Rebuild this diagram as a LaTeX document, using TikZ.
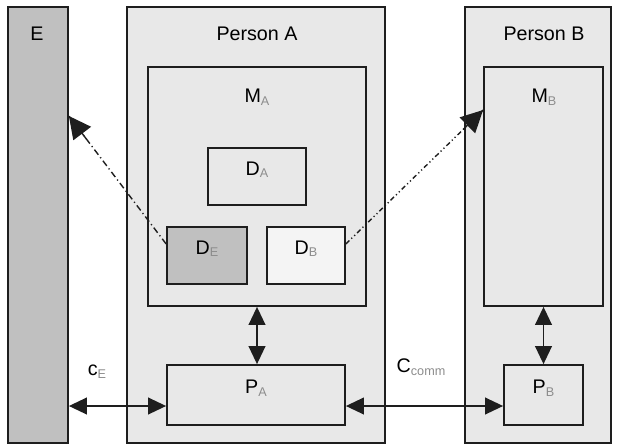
\documentclass[tikz,border=0pt]{standalone}
\usepackage{fontspec}
\setmainfont{Liberation Sans}
\usetikzlibrary{fit,arrows.meta}
\definecolor{edgegrey}{HTML}{1E1E1E}
\definecolor{bargrey}{HTML}{C0C0C0}
\definecolor{panelgrey}{HTML}{E8E8E8}
\definecolor{lightpanel}{HTML}{F4F4F4}
\definecolor{subgrey}{HTML}{8C8C8C}
\newcommand{\lsub}[1]{\raisebox{-2pt}{\fontsize{9pt}{10pt}\selectfont\color{subgrey}#1}}
\begin{document}
\begin{tikzpicture}[x=0.25mm,y=-0.25mm,line join=miter,font=\fontsize{14pt}{16pt}\selectfont,
  box/.style={draw=edgegrey,line width=0.45mm,fill=panelgrey,inner sep=0pt},
  flow/.style={draw=edgegrey,line width=0.35mm,
    {Triangle[length=4.5mm,width=4.2mm]}-{Triangle[length=4.5mm,width=4.2mm]}},
  leak/.style={draw=edgegrey,line width=0.35mm},
  leaktip/.style={draw=edgegrey,fill=edgegrey,line width=0.35mm,solid,-{Triangle[length=5.5mm,width=5.5mm]}}]
  \useasboundingbox (0,0) rectangle (619,445);
  % environment and the two persons
  \node[box,fill=bargrey,fit={(8,7) (68,443)}] (E) {};
  \node[box,fit={(127,7) (385,443)}] (A) {};
  \node[box,fit={(465,7) (611,443)}] (B) {};
  \node (Elbl) at (37,34) {E};
  \node (Albl) at (257,34) {Person A};
  \node (Blbl) at (544,34) {Person B};
  % memories
  \node[box,fit={(148,67) (366,306)}] (MA) {};
  \node[box,fit={(484,67) (603,306)}] (MB) {};
  \node (MAlbl) at (257,97) {M\lsub{A}};
  \node (MBlbl) at (544,97) {M\lsub{B}};
  \node[box,fit={(208,148) (306,205)}] (DA) {D\lsub{A}};
  \node[box,fill=bargrey,fit={(167,227) (247,284)}] (DE) {D\lsub{E}};
  \node[box,fill=lightpanel,fit={(267,227) (345,284)}] (DB) {D\lsub{B}};
  % processors
  \node[box,fit={(167,365) (345,425)}] (PA) {P\lsub{A}};
  \node[box,fit={(504,365) (583,425)}] (PB) {P\lsub{B}};
  \coordinate (chan) at (0,406);
  \coordinate (Ehit) at (E.east |- 0,116);
  \coordinate (MBhit) at (MB.west |- 0,110);
  % links
  \draw[flow] (MA.south) -- (MA.south |- PA.north);
  \draw[flow] (MB.south) -- (MB.south |- PB.north);
  \draw[flow] (E.east |- chan) -- (PA.west |- chan);
  \draw[flow] (PA.east |- chan) -- (PB.west |- chan);
  \node (cE) at (97,372) {c\lsub{E}};
  \node (Ccomm) at (421,367) {C\lsub{comm}};
  % leaks, dashed body plus a solid head
  \draw[leak,dash pattern=on 1.6mm off 0.8mm on 0.3mm off 0.8mm] ([yshift=2.9mm]DE.west) -- (Ehit);
  \draw[leaktip,shorten <=33mm] ([yshift=2.9mm]DE.west) -- (Ehit);
  \draw[leak,dash pattern=on 1.2mm off 0.7mm on 0.3mm off 0.7mm on 0.3mm off 0.7mm] ([yshift=2.9mm]DB.east) -- (MBhit);
  \draw[leaktip,shorten <=41mm] ([yshift=2.9mm]DB.east) -- (MBhit);
\end{tikzpicture}
\end{document}
